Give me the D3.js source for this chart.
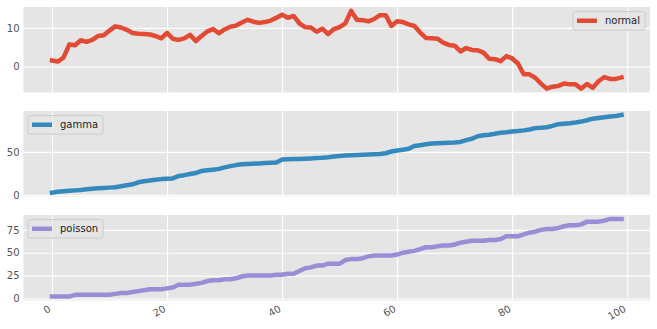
<!DOCTYPE html>
<html>
<head>
<meta charset="utf-8">
<script src="https://cdn.jsdelivr.net/npm/d3@7"></script>
<style>
  html, body { margin: 0; padding: 0; background: #fff; }
  svg { display: block; font-family: "DejaVu Sans", sans-serif; }
</style>
</head>
<body>
<svg id="chart" width="657" height="329"></svg>
<script>
// Cumulative random walks, one per panel
const normalValues = [1.6, 1.3, 2.3, 5.7, 5.5, 6.8, 6.4, 6.9, 7.9, 8.1,
  9.3, 10.4, 10.1, 9.5, 8.7, 8.5, 8.4, 8.3, 7.9, 7.3,
  8.7, 7.2, 6.9, 7.3, 8.2, 6.6, 7.9, 9.1, 9.7, 8.6,
  9.6, 10.3, 10.6, 11.4, 12.1, 11.6, 11.3, 11.5, 11.9, 12.6,
  13.4, 12.6, 13.1, 11.2, 10.2, 10.1, 9.0, 9.8, 8.4, 9.7,
  10.2, 11.2, 14.4, 12.1, 12.0, 11.7, 12.3, 13.3, 13.3, 10.5,
  11.7, 11.5, 10.9, 10.5, 8.8, 7.4, 7.3, 7.2, 6.2, 5.6,
  5.4, 3.9, 4.8, 4.3, 4.2, 3.6, 2.0, 1.9, 1.4, 2.7,
  2.1, 0.8, -2.0, -2.0, -2.9, -4.4, -5.7, -5.2, -5.0, -4.4,
  -4.6, -4.6, -5.7, -4.5, -5.5, -3.8, -2.7, -3.2, -3.2, -2.8];

const gammaValues = [2.6, 3.6, 4.2, 4.7, 5.2, 5.7, 6.4, 7.0, 7.6, 8.0,
  8.4, 8.9, 9.9, 11.1, 12.3, 14.6, 15.8, 16.7, 17.6, 18.3,
  18.7, 19.1, 21.9, 22.9, 24.2, 25.4, 27.8, 28.5, 29.3, 30.2,
  32.0, 33.4, 34.6, 35.5, 36.0, 36.3, 36.6, 37.0, 37.3, 37.6,
  41.0, 41.4, 41.6, 41.8, 42.1, 42.4, 42.8, 43.2, 43.8, 44.6,
  45.2, 45.7, 46.0, 46.3, 46.6, 46.9, 47.2, 47.6, 48.4, 50.4,
  51.6, 52.4, 53.6, 56.8, 57.8, 58.8, 59.6, 60.0, 60.4, 60.7,
  61.0, 61.6, 63.6, 65.2, 68.2, 69.2, 70.0, 71.0, 72.2, 72.8,
  73.6, 74.2, 75.0, 76.0, 77.6, 78.0, 78.6, 80.2, 82.2, 82.8,
  83.4, 84.2, 85.2, 86.8, 88.6, 89.4, 90.2, 91.0, 91.8, 93.0];

const poissonValues = [2, 2, 2, 2, 4, 4, 4, 4, 4, 4,
  4, 5, 6, 6, 7, 8, 9, 10, 10, 10,
  11, 12, 15, 15, 15, 16, 17, 19, 20, 20,
  21, 21, 22, 24, 25, 25, 25, 25, 25, 26,
  26, 27, 27, 30, 33, 34, 36, 36, 38, 38,
  38, 42, 43, 43, 44, 46, 47, 47, 47, 47,
  48, 50, 51, 52, 54, 56, 56, 57, 58, 58,
  59, 61, 62, 63, 63, 63, 64, 64, 65, 68,
  68, 68, 70, 72, 73, 75, 76, 76, 77, 79,
  80, 80, 81, 84, 84, 84, 85, 87, 87, 87];

const seriesNames = ["normal", "gamma", "poisson"];
const seriesColors = ["#E24A33", "#348ABD", "#988ED5"];
const yTickValues = [[0, 10], [0, 50], [0, 25, 50, 75]];
const xTickValues = [0, 20, 40, 60, 80, 100];
const legendCorner = ["right", "left", "left"];

const allSeries = [normalValues, gammaValues, poissonValues];

const svg = d3.select("#chart");
const left = 23.5, right = 650;
const panelTop = [7, 111, 215];
const panelH = 85.5;

// shared x scale with 5% padding on both ends
const n = normalValues.length;
const xPad = (n - 1) * 0.05;
const x = d3.scaleLinear().domain([-xPad, n - 1 + xPad]).range([left, right]);

allSeries.forEach((vals, k) => {
  const top = panelTop[k];
  const [lo, hi] = d3.extent(vals);
  const pad = (hi - lo) * 0.05;
  const y = d3.scaleLinear().domain([lo - pad, hi + pad]).range([top + panelH, top]);

  const g = svg.append("g");

  // panel background
  g.append("rect")
    .attr("x", left).attr("y", top)
    .attr("width", right - left).attr("height", panelH)
    .attr("fill", "#E5E5E5");

  // grid lines
  g.append("g")
    .attr("transform", `translate(0,${top + panelH})`)
    .call(d3.axisBottom(x).tickValues(xTickValues).tickSize(-panelH).tickFormat(""))
    .call(a => a.select(".domain").remove())
    .call(a => a.selectAll("line").attr("stroke", "#fff").attr("stroke-width", 1.1));

  g.append("g")
    .attr("transform", `translate(${left},0)`)
    .call(d3.axisLeft(y).tickValues(yTickValues[k]).tickSize(-(right - left)).tickPadding(4)
      .tickFormat(d3.format("d")))
    .call(a => a.select(".domain").remove())
    .call(a => a.selectAll("line").attr("stroke", "#fff").attr("stroke-width", 1.1))
    .call(a => a.selectAll("text").attr("fill", "#555").attr("font-size", 10)
      .attr("font-family", "DejaVu Sans, sans-serif"));

  // series line
  const line = d3.line().x((d, i) => x(i)).y(d => y(d));
  g.append("path")
    .datum(vals)
    .attr("d", line)
    .attr("fill", "none")
    .attr("stroke", seriesColors[k])
    .attr("stroke-width", 4.5)
    .attr("stroke-linejoin", "round")
    .attr("stroke-linecap", "square");

  // legend
  const lg = g.append("g");
  const txt = lg.append("text")
    .text(seriesNames[k])
    .attr("font-size", 10)
    .attr("fill", "#222")
    .attr("dominant-baseline", "central");
  const tw = txt.node().getComputedTextLength();
  const boxW = 4 + 20 + 8 + tw + 5;
  const boxH = 18.5;
  const bx = legendCorner[k] === "right" ? right - 5 - boxW : left + 4.5;
  const by = top + 4.5;
  lg.insert("rect", "text")
    .attr("x", bx).attr("y", by)
    .attr("width", boxW).attr("height", boxH)
    .attr("rx", 2)
    .attr("fill", "#E5E5E5").attr("fill-opacity", 0.8)
    .attr("stroke", "#CCCCCC").attr("stroke-width", 1);
  lg.insert("line", "text")
    .attr("x1", bx + 4).attr("x2", bx + 24)
    .attr("y1", by + boxH / 2).attr("y2", by + boxH / 2)
    .attr("stroke", seriesColors[k]).attr("stroke-width", 4.5);
  txt.attr("x", bx + 32).attr("y", by + boxH / 2);

  // x tick labels on the bottom panel only
  if (k === allSeries.length - 1) {
    g.selectAll(".xlab")
      .data(xTickValues)
      .enter().append("text")
      .attr("class", "xlab")
      .attr("transform", d => `translate(${x(d) - 4},${top + panelH + 4}) rotate(-30)`)
      .attr("text-anchor", "end")
      .attr("dominant-baseline", "hanging")
      .attr("font-size", 10)
      .attr("fill", "#555")
      .text(d => d);
  }
});
</script>
</body>
</html>
